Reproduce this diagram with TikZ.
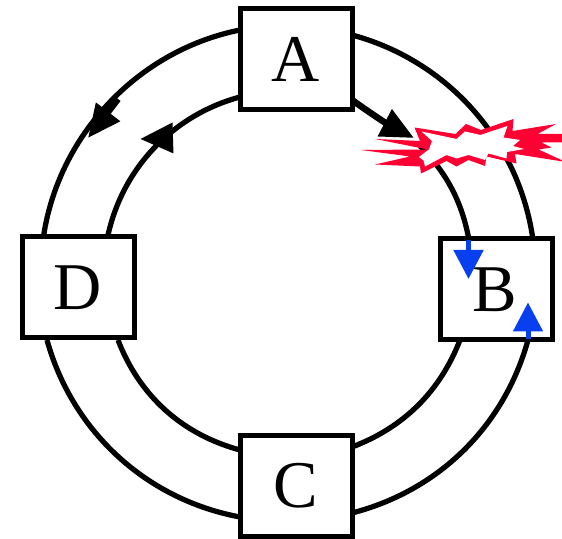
\documentclass[tikz,border=0pt]{standalone}
\usepackage{fontspec}
\setmainfont{Liberation Serif}
\usetikzlibrary{arrows.meta}
\definecolor{flashred}{RGB}{255,0,51}
\definecolor{signalblue}{RGB}{8,64,240}
\tikzset{
  ringline/.style={line width=0.105cm,black,looseness=0.93},
  stationbox/.style={draw=black,line width=0.1cm,fill=white,minimum width=2.24cm,minimum height=2.02cm,inner sep=0pt,font=\fontsize{38}{38}\selectfont},
  flowline/.style={line width=0.13cm,black,-{Triangle[length=0.66cm,width=0.58cm]}},
  signalline/.style={line width=0.1cm,signalblue,-{Triangle[length=0.58cm,width=0.58cm]}}
}
\begin{document}
\begin{tikzpicture}
\useasboundingbox (0,0) rectangle (11.24,10.78);
\coordinate (abo) at (7.04,10.08);
\coordinate (bao) at (10.66,5.98);
\coordinate (bco) at (10.56,3.98);
\coordinate (cbo) at (7.04,0.52);
\coordinate (cdo) at (4.80,0.44);
\coordinate (dco) at (0.94,3.98);
\coordinate (dao) at (0.86,5.98);
\coordinate (ado) at (4.80,10.18);
\coordinate (abi) at (7.04,8.78);
\coordinate (hiti) at (8.28,8.02);
\coordinate (resti) at (8.40,7.86);
\coordinate (bai) at (9.38,5.98);
\coordinate (bci) at (9.20,3.98);
\coordinate (cbi) at (7.04,1.84);
\coordinate (cdi) at (4.80,1.78);
\coordinate (dci) at (2.36,3.98);
\coordinate (dai) at (2.14,5.98);
\coordinate (adi) at (4.80,8.84);
\draw[ringline] (abo) to[bend left=33.5] (bao);
\draw[ringline] (bco) to[bend left=30] (cbo);
\draw[ringline] (cdo) to[bend left=32] (dco);
\draw[ringline] (dao) to[bend left=35.5] (ado);
\draw[ringline] (resti) to[bend left=17] (bai);
\draw[ringline] (bci) to[bend left=24] (cbi);
\draw[ringline] (cdi) to[bend left=27] (dci);
\draw[ringline] (dai) to[bend left=32] (adi);
\node[stationbox] (A) at (5.92,9.60) {\raisebox{-0.03cm}{A}};
\node[stationbox] (B) at (9.92,4.99) {\hspace{-0.06cm}\raisebox{-0.06cm}{B}};
\node[stationbox] (C) at (5.92,1.06) {\raisebox{-0.06cm}{C}};
\node[stationbox] (D) at (1.56,5.03) {\raisebox{-0.1cm}{D}};
\fill[flashred] (8.29,8.23) -- (9.11,8.10) -- (9.32,8.30) -- (9.62,8.18) -- (10.27,8.40) -- (10.25,8.16) -- (11.12,8.30) -- (10.75,8.10) -- (11.32,8.10) -- (11.32,7.93) -- (10.83,7.93) -- (11.03,7.83) -- (10.77,7.79) -- (11.32,7.54) -- (10.30,7.70) -- (10.33,7.51) -- (9.73,7.65) -- (9.70,7.46) -- (9.37,7.58) -- (9.13,7.45) -- (8.93,7.56) -- (8.42,7.31) -- (8.40,7.45) -- (7.50,7.49) -- (8.20,7.65) -- (7.22,7.78) -- (8.55,7.79) -- (7.50,8.00) -- (8.40,7.96) -- cycle;
\fill[white] (8.43,8.15) -- (9.13,8.00) -- (9.30,8.15) -- (9.61,8.08) -- (10.15,8.26) -- (10.07,8.03) -- (10.40,7.98) -- (10.26,7.86) -- (10.48,7.80) -- (10.14,7.74) -- (10.13,7.61) -- (9.77,7.71) -- (9.70,7.58) -- (9.37,7.68) -- (9.13,7.61) -- (8.93,7.68) -- (8.50,7.45) -- (8.47,7.57) -- (8.38,7.64) -- (8.58,7.79) -- (8.64,7.96) -- cycle;
\draw[flowline] (abi) to[bend right=4] (hiti);
\coordinate (leftouter) at (2.36,8.80);
\coordinate (leftoutertip) at (1.76,8.02);
\coordinate (leftinner) at (3.45,8.02);
\coordinate (leftinnertip) at (2.80,8.00);
\draw[flowline] (leftouter) -- (leftoutertip);
\draw[flowline] (leftinner) -- (leftinnertip);
\coordinate (bluein) at (9.37,5.98);
\coordinate (blueintip) at (9.37,5.20);
\coordinate (blueout) at (10.56,4.00);
\coordinate (blueouttip) at (10.56,4.73);
\draw[signalline] (bluein) -- (blueintip);
\draw[signalline] (blueout) -- (blueouttip);
\end{tikzpicture}
\end{document}
